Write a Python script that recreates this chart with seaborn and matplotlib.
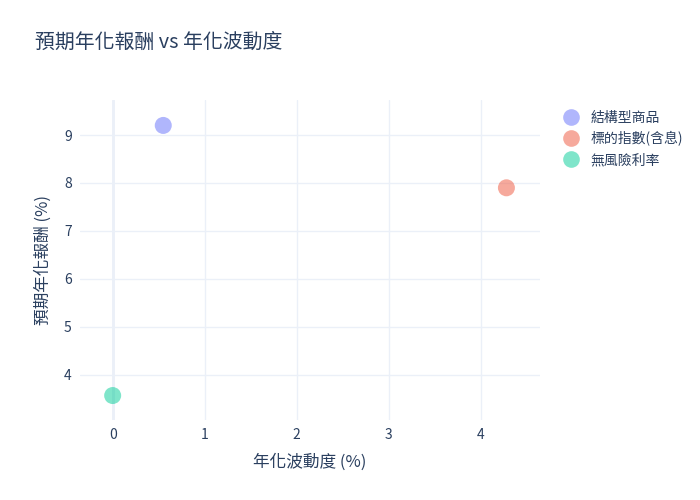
import matplotlib
matplotlib.use("Agg")
import matplotlib.pyplot as plt
import seaborn as sns
import pandas as pd

categories = ["結構型商品", "標的指數(含息)", "無風險利率"]
volatility = [0.55, 4.28, 0.0]
annual_return = [9.2, 7.9, 3.57]
colors = ["#636efa", "#EF553B", "#00cc96"]

df = pd.DataFrame({"name": categories, "vol": volatility, "ret": annual_return})

sns.set_theme(style="white")
plt.rcParams['font.family'] = ['Noto Sans CJK TC', 'DejaVu Sans']
text_color = "#2a3f5f"
grid_color = "#EBF0F8"

fig = plt.figure(figsize=(7, 5), dpi=100)
ax = fig.add_axes([80/700, 80/500, 460/700, 320/500])

ax.set_xlim(-0.355, 4.645)
ax.set_ylim(3.06, 9.73)
ax.set_xticks([0, 1, 2, 3, 4])
ax.set_yticks([4, 5, 6, 7, 8, 9])
ax.grid(True, color=grid_color, linewidth=1)
ax.axvline(0, color=grid_color, linewidth=2, zorder=0.5)
for s in ax.spines.values():
    s.set_visible(False)
ax.set_axisbelow(True)

sns.scatterplot(data=df, x="vol", y="ret", hue="name", palette=colors,
                s=150, alpha=0.5, edgecolor="none", ax=ax, zorder=3)

ax.tick_params(axis='both', length=0, labelsize=10, colors=text_color, pad=6)
ax.set_xlabel("年化波動度 (%)", fontsize=12, color=text_color, labelpad=8)
ax.set_ylabel("預期年化報酬 (%)", fontsize=12, color=text_color, labelpad=9)

fig.text(35/700, 1 - 42/500, "預期年化報酬 vs 年化波動度", fontsize=14.3,
         color=text_color, va="center", ha="left")

leg = ax.legend(loc="upper left", bbox_to_anchor=((547-80)/460, 0.997), frameon=False,
                fontsize=10, labelcolor=text_color, handletextpad=0.45,
                labelspacing=0.48, borderaxespad=0.3)
for h in leg.legend_handles:
    h.set_alpha(0.5)
    h.set_markersize(12)

fig.savefig("out.png", dpi=100)
